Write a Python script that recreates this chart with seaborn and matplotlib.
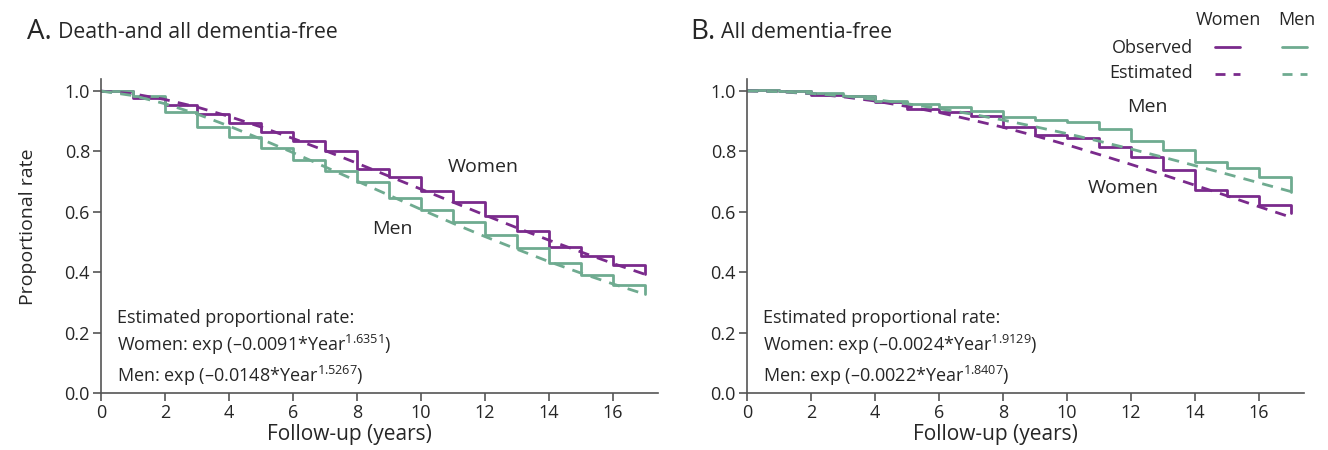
import numpy as np
import pandas as pd
import matplotlib.pyplot as plt
import seaborn as sns
from matplotlib.lines import Line2D

# Dados lidos do gráfico (anos 0..17; observado = nível em [t, t+1), último ponto = queda final)
years = list(range(18))

a_women_obs = [1.0, 0.976, 0.954, 0.924, 0.893, 0.863, 0.834, 0.801, 0.742, 0.716, 0.670,
               0.631, 0.587, 0.537, 0.484, 0.454, 0.424, 0.395]
a_men_obs = [1.0, 0.985, 0.931, 0.882, 0.849, 0.810, 0.772, 0.736, 0.700, 0.645, 0.606,
             0.567, 0.523, 0.480, 0.430, 0.390, 0.357, 0.327]
a_women_est = [1.0, 0.991, 0.972, 0.947, 0.916, 0.881, 0.843, 0.803, 0.761, 0.718, 0.675,
               0.632, 0.589, 0.547, 0.506, 0.467, 0.429, 0.393]
a_men_est = [1.0, 0.985, 0.958, 0.924, 0.884, 0.841, 0.796, 0.749, 0.702, 0.655, 0.608,
             0.562, 0.518, 0.476, 0.435, 0.397, 0.361, 0.327]

b_women_obs = [1.005, 1.0, 0.987, 0.982, 0.963, 0.940, 0.929, 0.918, 0.882, 0.854, 0.843,
               0.816, 0.782, 0.738, 0.672, 0.652, 0.622, 0.596]
b_men_obs = [1.005, 1.0, 0.994, 0.983, 0.968, 0.956, 0.946, 0.935, 0.915, 0.904, 0.896,
             0.873, 0.834, 0.805, 0.766, 0.744, 0.714, 0.667]
b_women_est = [1.0, 0.998, 0.991, 0.981, 0.967, 0.949, 0.929, 0.905, 0.880, 0.852, 0.822,
               0.790, 0.757, 0.723, 0.688, 0.653, 0.617, 0.582]
b_men_est = [1.0, 0.998, 0.992, 0.984, 0.972, 0.958, 0.942, 0.924, 0.904, 0.882, 0.859,
             0.834, 0.808, 0.781, 0.753, 0.725, 0.696, 0.667]

panel_titles = [('A.', 'Death-and all dementia-free'), ('B.', 'All dementia-free')]
formulas = [['Estimated proportional rate:',
             'Women: exp (–0.0091*Year$^{\\mathregular{1.6351}}$)',
             'Men: exp (–0.0148*Year$^{\\mathregular{1.5267}}$)'],
            ['Estimated proportional rate:',
             'Women: exp (–0.0024*Year$^{\\mathregular{1.9129}}$)',
             'Men: exp (–0.0022*Year$^{\\mathregular{1.8407}}$)']]
# (texto, x, y) dos rótulos dentro de cada painel
curve_labels = [[('Women', 11.95, 0.75), ('Men', 9.1, 0.543)],
                [('Men', 12.5, 0.948), ('Women', 11.75, 0.68)]]

cores = {'Women': '#7a2a8c', 'Men': '#6fab90'}
tracejado = (0, (4, 3))

sns.set_style('ticks')
plt.rcParams['font.family'] = ['Open Sans', 'DejaVu Sans']
plt.rcParams['mathtext.fontset'] = 'custom'
plt.rcParams['mathtext.rm'] = 'Open Sans'

def monta_df(w_obs, m_obs, w_est, m_est):
    obs = pd.DataFrame({'ano': years * 2, 'taxa': w_obs + m_obs,
                        'sexo': ['Women'] * 18 + ['Men'] * 18})
    est = pd.DataFrame({'ano': years * 2, 'taxa': w_est + m_est,
                        'sexo': ['Women'] * 18 + ['Men'] * 18})
    return obs, est

dados = [monta_df(a_women_obs, a_men_obs, a_women_est, a_men_est),
         monta_df(b_women_obs, b_men_obs, b_women_est, b_men_est)]

fig = plt.figure(figsize=(13.28, 4.5), dpi=100)
lefts = [101 / 1328, 747 / 1328]
eixos = [fig.add_axes([l, 0.1267, 0.4193, 0.6978]) for l in lefts]

cinza = '#555555'
texto = '#262626'
for i, ax in enumerate(eixos):
    obs, est = dados[i]
    sns.lineplot(data=obs, x='ano', y='taxa', hue='sexo', palette=cores, ax=ax,
                 drawstyle='steps-post', linewidth=2.0, legend=False, errorbar=None)
    sns.lineplot(data=est, x='ano', y='taxa', hue='sexo', palette=cores, ax=ax,
                 linestyle=tracejado, linewidth=2.0, legend=False, errorbar=None)
    ax.set_xlim(0, 17.4)
    ax.set_ylim(0, 1.04)
    ax.set_xticks(range(0, 17, 2))
    ax.set_yticks(np.arange(0, 1.01, 0.2))
    ax.yaxis.set_major_formatter(plt.FormatStrFormatter('%.1f'))
    sns.despine(ax=ax)
    for s in ['left', 'bottom']:
        ax.spines[s].set_color(cinza)
        ax.spines[s].set_linewidth(1.2)
    ax.tick_params(colors=cinza, labelcolor=texto, labelsize=13, length=6, width=1.2, pad=2)
    ax.set_xlabel('Follow-up (years)', fontsize=15, color=texto)
    ax.xaxis.set_label_coords(0.447, -0.1)
    if i == 0:
        ax.set_ylabel('Proportional rate', fontsize=14, color=texto)
        ax.yaxis.set_label_coords(-0.115, 0.529)
    else:
        ax.set_ylabel('')

    for j, linha in enumerate(formulas[i]):
        ax.text(0.029, [0.239, 0.152, 0.053][j], linha, transform=ax.transAxes,
                fontsize=13, va='center', ha='left', color=texto)
    for txt, x, y in curve_labels[i]:
        ax.text(x, y, txt, fontsize=14, ha='center', va='center', color=texto)

# títulos dos painéis
for (letra, titulo), x0 in zip(panel_titles, [27, 690]):
    fig.text(x0 / 1328, 1 - 32 / 450, letra, fontsize=20, va='center', ha='left', color=texto)
    fig.text((x0 + 31) / 1328, 1 - 33 / 450, titulo, fontsize=15.3, va='center', ha='left',
             color=texto)

# legenda manual (canto superior direito)
fig.text(1228 / 1328, 1 - 20 / 450, 'Women', fontsize=13, ha='center', va='center', color=texto)
fig.text(1297 / 1328, 1 - 20 / 450, 'Men', fontsize=13, ha='center', va='center', color=texto)
fig.text(1193 / 1328, 1 - 48 / 450, 'Observed', fontsize=13, ha='right', va='center', color=texto)
fig.text(1193 / 1328, 1 - 73 / 450, 'Estimated', fontsize=13, ha='right', va='center', color=texto)
for y, ls in [(47, '-'), (74, (0, (3.6, 2.9)))]:
    for (x1, x2), sexo in [((1215, 1240), 'Women'), ((1282, 1307), 'Men')]:
        fig.add_artist(Line2D([x1 / 1328, x2 / 1328], [1 - y / 450, 1 - y / 450],
                              transform=fig.transFigure, color=cores[sexo],
                              linewidth=2.0, linestyle=ls))

fig.savefig('out.png', dpi=100)
plt.close(fig)
